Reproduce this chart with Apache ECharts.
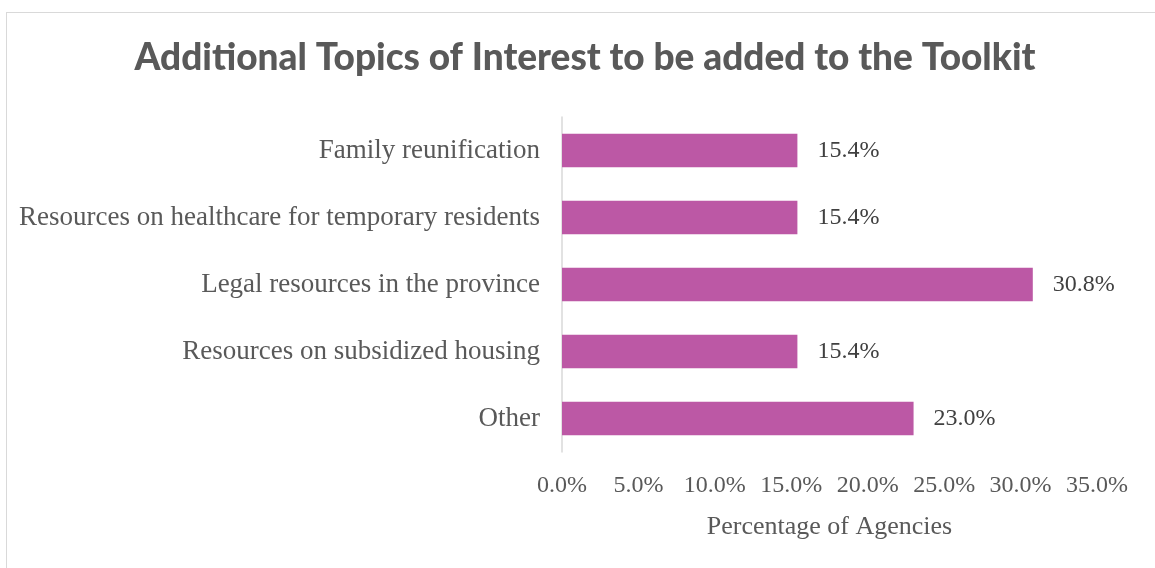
<!DOCTYPE html>
<html>
<head>
<meta charset="utf-8">
<script src="https://cdn.jsdelivr.net/npm/echarts@6/dist/echarts.min.js"></script>
<style>
  html, body { margin: 0; padding: 0; background: #fff; }
  .frame { position: absolute; left: 6px; top: 12px; width: 1200px; height: 600px; border: 1px solid #d9d9d9; }
  #chart { position: absolute; left: 0; top: 0; width: 1155px; height: 568px; }
</style>
</head>
<body>
<div class="frame"></div>
<div id="chart"></div>
<script>
const categories = [
  'Family reunification',
  'Resources on healthcare for temporary residents',
  'Legal resources in the province',
  'Resources on subsidized housing',
  'Other'
];
const percentages = [15.4, 15.4, 30.8, 15.4, 23.0];
const tickValues = [0, 5, 10, 15, 20, 25, 30, 35];

const serif = 'Liberation Serif';
const chart = echarts.init(document.getElementById('chart'));

chart.setOption({
  animation: false,
  title: {
    text: 'Additional Topics of Interest to be added to the Toolkit',
    left: 580,
    textAlign: 'center',
    top: 35,
    textStyle: { fontFamily: 'Lato', fontWeight: 900, fontSize: 37, color: '#595959' }
  },
  grid: { left: 562, top: 117, width: 535, height: 335, containLabel: false },
  xAxis: {
    type: 'value',
    min: tickValues[0],
    max: tickValues[tickValues.length - 1],
    interval: 5,
    name: 'Percentage of Agencies',
    nameLocation: 'middle',
    nameGap: 62,
    nameTextStyle: { fontFamily: serif, fontSize: 26, color: '#595959' },
    axisLine: { show: false },
    axisTick: { show: false },
    splitLine: { show: false },
    axisLabel: {
      margin: 22,
      fontFamily: serif, fontSize: 24, color: '#595959',
      formatter: v => v.toFixed(1) + '%'
    }
  },
  yAxis: {
    type: 'category',
    inverse: true,
    data: categories,
    axisLine: { show: true, lineStyle: { color: '#d9d9d9', width: 1.5 } },
    axisTick: { show: false },
    axisLabel: { margin: 22, fontFamily: serif, fontSize: 27, color: '#595959' }
  },
  series: [{
    type: 'bar',
    data: percentages,
    barWidth: '50%',
    itemStyle: { color: '#BC58A5' },
    label: {
      show: true,
      position: 'right',
      distance: 20,
      fontFamily: serif, fontSize: 24, color: '#404040',
      formatter: p => p.value.toFixed(1) + '%'
    }
  }]
});
</script>
</body>
</html>
